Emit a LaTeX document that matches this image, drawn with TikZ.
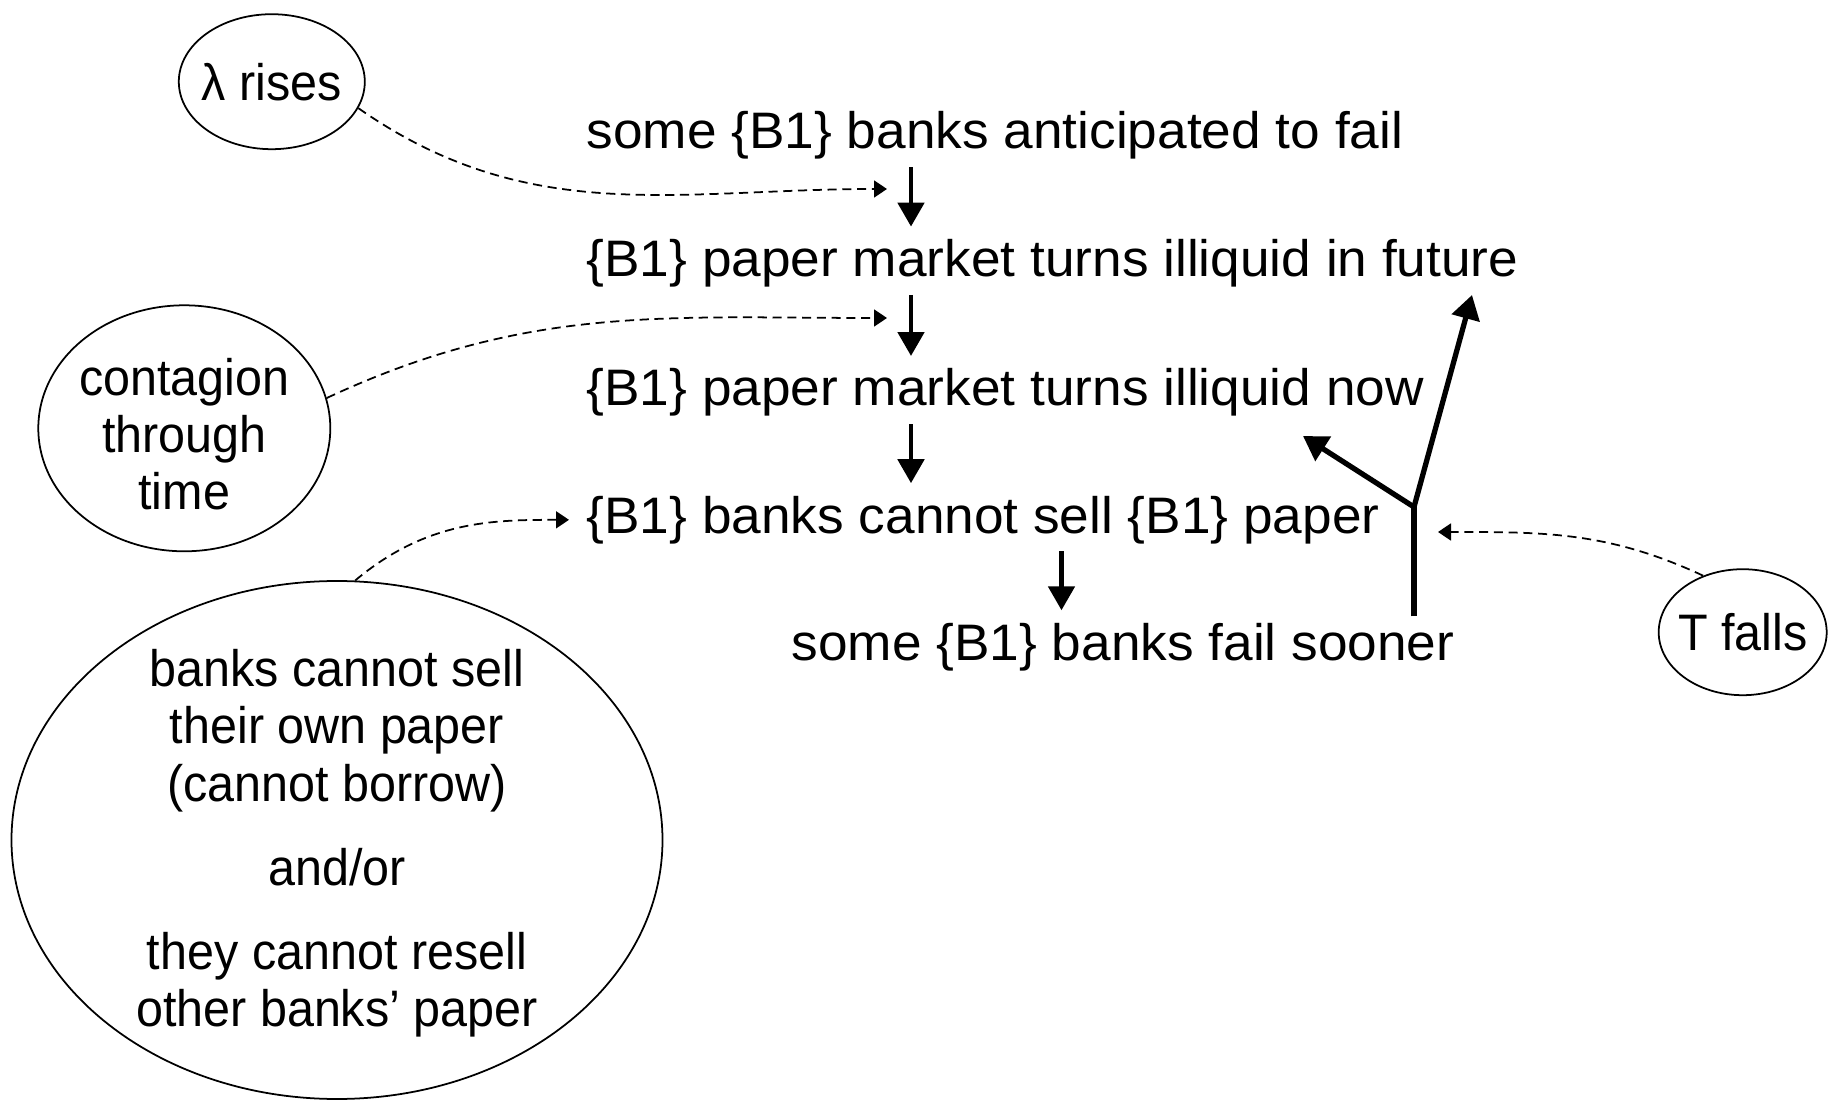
\documentclass[tikz,border=0pt]{standalone}
\usepackage{fontspec}
\setmainfont{Liberation Sans}[FakeStretch=1.037]
\newfontfamily\bubblefont{Liberation Sans}[FakeStretch=0.945]
\usetikzlibrary{arrows.meta,shapes.geometric}

\begin{document}
\begin{tikzpicture}[every node/.style={font=\fontsize{14.6}{16.3}\selectfont, inner sep=0pt},
        bubble/.style={draw, ellipse, line width=0.5pt, inner sep=-1cm},
        inside/.style={align=center, font=\fontsize{14.6}{16.3}\selectfont\bubblefont},
        flow/.style={line width=1.4pt, -{Triangle[length=2.4mm,width=2.6mm]},
                shorten <=0.7mm, shorten >=1.2mm},
        fork/.style={line width=1.5pt},
        cause/.style={line width=0.5pt, dash pattern=on 2.6pt off 1.6pt,
                -{Triangle[length=1.3mm,width=1.7mm]}}]
        \useasboundingbox (0,0) rectangle (18.29,10.99);

        \node[anchor=base west] (t1) at (5.86,9.50) {some \{B1\} banks anticipated to fail};
        \node[anchor=base west] (t2) at (5.86,8.225) {\{B1\} paper market turns illiquid in future};
        \node[anchor=base west] (t3) at (5.86,6.931) {\{B1\} paper market turns illiquid now};
        \node[anchor=base west] (t4) at (5.86,5.659) {\{B1\} banks cannot sell \{B1\} paper};
        \node[anchor=base west] (t5) at (7.91,4.388) {some \{B1\} banks fail sooner};

        \coordinate (ax) at (9.11,0);
        \coordinate (bx) at (10.615,0);
        \foreach \a/\b in {t1/t2, t2/t3, t3/t4} {
                \draw[flow] (\a.south -| ax) -- (\b.north -| ax);
            }
        \draw[flow] (t4.south -| bx) -- (t5.north -| bx);

        % the two ways back up
        \coordinate (fk) at (14.14,5.92);
        \coordinate (up) at (14.72,8.04);
        \coordinate (left) at (13.03,6.63);
        \draw[fork, shorten <=0.6mm] (t5.north -| fk) -- (fk);
        \draw[fork, -{Triangle[length=2.4mm,width=2.8mm]}] (fk) -- (up);
        \draw[fork, -{Triangle[length=2.4mm,width=2.8mm]}] (fk) -- (left);

        \node[bubble, minimum width=1.86cm, minimum height=1.35cm] (lam) at (2.718,10.173) {};
        \node[inside] (lamText) at (lam) {λ rises};
        \node[bubble, minimum width=2.92cm, minimum height=2.46cm] (cont) at (1.843,6.707) {};
        \node[inside] (contText) at ([yshift=-0.6mm]cont) {contagion\\through\\time};
        \node[bubble, minimum width=6.51cm, minimum height=5.18cm] (sell) at (3.37,2.59) {};
        \node[inside] (sellText) at ([yshift=-0.35mm]sell)
            {banks cannot sell\\their own paper\\(cannot borrow)\\[0.27cm]
             and/or\\[0.27cm]
             they cannot resell\\other banks’ paper};
        \node[bubble, minimum width=1.68cm, minimum height=1.26cm] (tf) at (17.427,4.668) {};
        \node[inside] (tfText) at (tf) {T falls};

        \coordinate (c1) at (8.87,9.10);
        \coordinate (c2) at (8.87,7.81);
        \coordinate (c4) at (14.38,5.67);
        \draw[cause] (lam.-17) to[out=-35, in=180] (c1);
        \draw[cause] (cont.12) to[out=25, in=180] (c2);
        \draw[cause, shorten >=1.7mm] (sell.86) to[out=40, in=180] (t4.west);
        \draw[cause] (tf.125) to[out=155, in=0] (c4);
    \end{tikzpicture}
\end{document}
